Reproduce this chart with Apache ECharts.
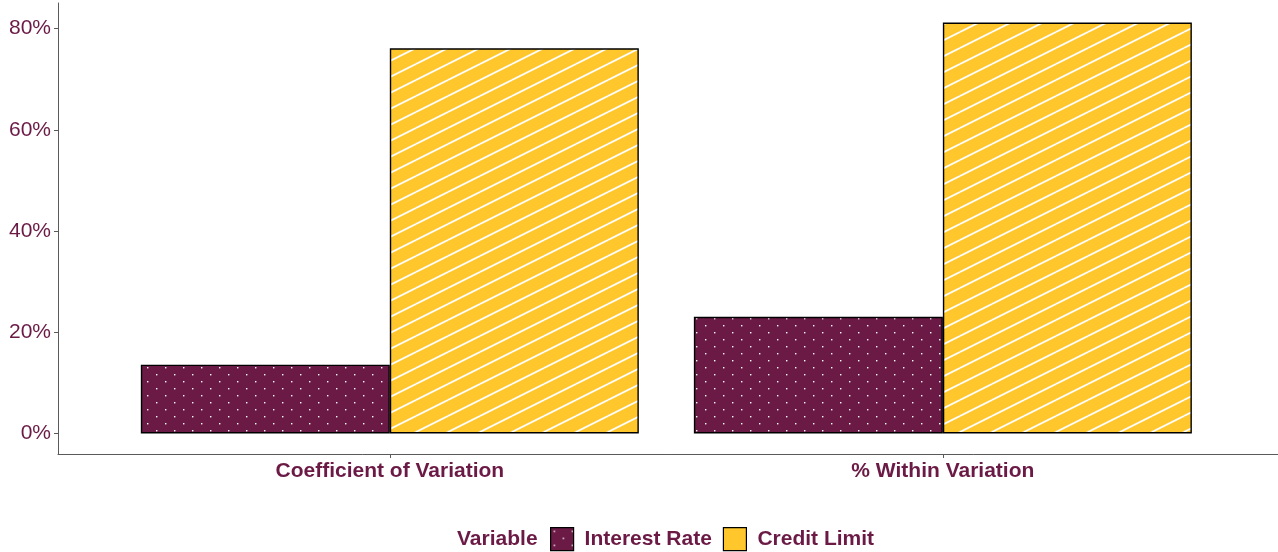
<!DOCTYPE html>
<html>
<head>
<meta charset="utf-8">
<script src="https://cdn.jsdelivr.net/npm/echarts@6/dist/echarts.min.js"></script>
<style>
  html, body { margin: 0; padding: 0; background: #fff; }
  #chart { width: 1278px; height: 552px; }
</style>
</head>
<body>
<div id="chart"></div>
<script>
const categories = ['Coefficient of Variation', '% Within Variation'];
const interestRate = [13.6, 23.05];
const creditLimit = [76.1, 81.2];
const yTicks = [0, 20, 40, 60, 80];

const MAROON = '#6B1A45';
const YELLOW = '#FFC72C';
const TEXT = '#6B1A45';
const FONT = '"Liberation Sans", Arial, sans-serif';

// white dot pattern on maroon
function dotPattern() {
  const c = document.createElement('canvas');
  c.width = 18;
  c.height = 14;
  const ctx = c.getContext('2d');
  ctx.fillStyle = MAROON;
  ctx.fillRect(0, 0, c.width, c.height);
  ctx.fillStyle = '#ffffff';
  ctx.fillRect(3, 3, 1.4, 1.4);
  ctx.fillRect(12, 10, 1.4, 1.4);
  return c;
}

// white diagonal stripes on yellow
function stripePattern() {
  const c = document.createElement('canvas');
  c.width = 32;
  c.height = 16;
  const ctx = c.getContext('2d');
  ctx.fillStyle = YELLOW;
  ctx.fillRect(0, 0, c.width, c.height);
  ctx.strokeStyle = '#ffffff';
  ctx.lineWidth = 1.8;
  [-16, 0, 16].forEach((k) => {
    ctx.beginPath();
    ctx.moveTo(0, 16 + k);
    ctx.lineTo(32, k);
    ctx.stroke();
  });
  return c;
}

const chart = echarts.init(document.getElementById('chart'), null, { renderer: 'canvas' });

const opts = {
  animation: false,
  title: {
    text: 'Variable',
    left: 457,
    top: 529,
    textStyle: { color: TEXT, fontFamily: FONT, fontSize: 21, fontWeight: 'bold' },
    padding: 0,
  },
  legend: {
    left: 550,
    top: 527,
    padding: 0,
    itemWidth: 23,
    itemHeight: 23,
    itemGap: 11,
    icon: 'rect',
    textStyle: {
      color: TEXT, fontFamily: FONT, fontSize: 21, fontWeight: 'bold', padding: [0, 0, 0, 6],
    },
    data: [
      { name: 'Interest Rate', itemStyle: { color: { image: dotPattern(), repeat: 'repeat' }, borderColor: '#000', borderWidth: 1.2 } },
      { name: 'Credit Limit', itemStyle: { color: YELLOW, borderColor: '#000', borderWidth: 1.2 } },
    ],
  },
  grid: { left: 58, right: 0, top: 3, bottom: 98, containLabel: false },
  xAxis: {
    type: 'value',
    min: 0.4,
    max: 2.606,
    splitLine: { show: false },
    axisLine: { show: true, onZero: false, lineStyle: { color: '#5a5a5a', width: 1 } },
    axisTick: { show: true, length: 4, customValues: [1, 2], lineStyle: { color: '#5a5a5a' } },
    axisLabel: {
      customValues: [1, 2],
      formatter: (v) => categories[Math.round(v) - 1],
      color: TEXT,
      fontFamily: FONT,
      fontSize: 21,
      fontWeight: 'bold',
      margin: 7,
    },
  },
  yAxis: {
    type: 'value',
    min: -4.05,
    max: 85.05,
    splitLine: { show: false },
    axisLine: { show: true, onZero: false, lineStyle: { color: '#5a5a5a', width: 1 } },
    axisTick: { show: true, length: 4, customValues: yTicks, lineStyle: { color: '#5a5a5a' } },
    axisLabel: {
      customValues: yTicks,
      formatter: (v) => `${v}%`,
      color: TEXT,
      fontFamily: FONT,
      fontSize: 21,
      margin: 7,
      padding: [4, 0, 0, 0],
    },
  },
  series: [
    {
      name: 'Interest Rate',
      type: 'bar',
      barWidth: 249,
      barGap: '0%',
      data: interestRate.map((v, i) => [i + 1, v]),
      itemStyle: { color: { image: dotPattern(), repeat: 'repeat' }, borderColor: '#000', borderWidth: 1.4 },
    },
    {
      name: 'Credit Limit',
      type: 'bar',
      barWidth: 249,
      barGap: '0%',
      data: creditLimit.map((v, i) => [i + 1, v]),
      itemStyle: { color: { image: stripePattern(), repeat: 'repeat' }, borderColor: '#000', borderWidth: 1.4 },
    },
  ],
};

chart.setOption(opts);
</script>
</body>
</html>
